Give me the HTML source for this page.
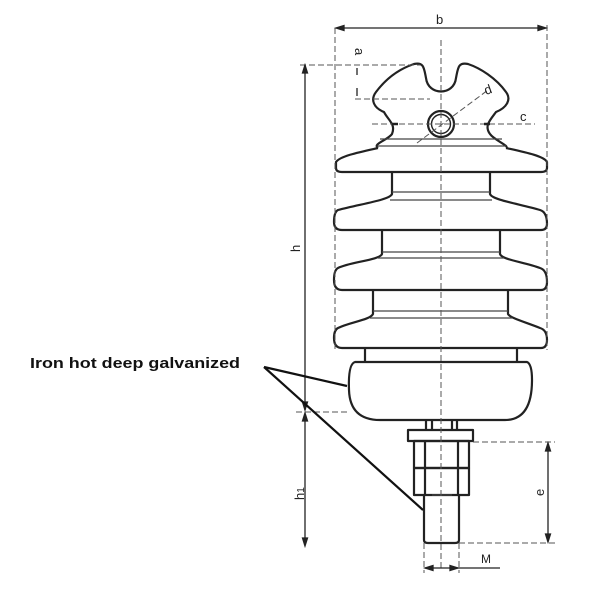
<!DOCTYPE html>
<html><head><style>html,body{margin:0;padding:0;background:#fff}svg{display:block}</style></head>
<body>
<svg width="600" height="600" viewBox="0 0 600 600" xmlns="http://www.w3.org/2000/svg" font-family="Liberation Sans, sans-serif">
<g fill="none" stroke="#222" stroke-width="2.2" stroke-linejoin="round">
<path d="M378,148 C372,144 388,140 392,134 C396,124 388,120 384,112 C374,108 370,100 376,92 C388,76 402,68 414,64 C424,62 424,68 426,78 C428,96 454,96 456,78 C458,68 458,62 468,64 C480,68 496,78 506,92 C512,100 506,108 496,112 C490,120 484,126 490,134 C494,140 510,146 506,148"/>
<path d="M378,148 C360,152 340,156 336,162 L336,168 Q336,172 342,172 L541,172 Q547,172 547,168 L547,162 C544,156 524,152 506,148"/>
<path d="M392,172 L392,194 C390,200 360,204 338,210 Q334,212 334,222 Q334,230 342,230 L541,230 Q547,230 547,224 Q547,212 540,210 C520,204 492,200 490,194 L490,172"/>
<path d="M382,230 L382,254 C380,260 350,262 338,268 Q334,270 334,280 Q334,290 342,290 L541,290 Q547,290 547,282 Q547,270 540,268 C525,262 502,260 500,254 L500,230"/>
<path d="M373,290 L373,314 C370,320 350,322 338,328 Q334,330 334,338 Q334,348 342,348 L541,348 Q547,348 547,340 Q547,330 540,328 C525,322 510,318 508,314 L508,290"/>
<path d="M365,348 L365,362 M517,348 L517,362"/>
<path d="M355,362 L527,362 Q532,364 532,380 Q532,420 505,420 L380,420 Q350,420 349,390 Q348,364 355,362 Z"/>
<path d="M426,420 L426,430 M457,420 L457,430 M432,420 L432,430 M452,420 L452,430"/>
<rect x="408" y="430" width="65" height="11"/>
<rect x="414" y="441" width="55" height="27"/>
<rect x="414" y="468" width="55" height="27"/>
<path d="M425,441 L425,495 M458,441 L458,495"/>
<path d="M424,495 L424,540 Q424,543 428,543 L455,543 Q459,543 459,540 L459,495"/>
<circle cx="441" cy="124" r="13"/>
<circle cx="441" cy="124" r="9.5" stroke-width="1.4"/>
</g>
<g stroke="#444" stroke-width="1.2">
<line x1="392" y1="192" x2="490" y2="192"/><line x1="390" y1="200" x2="492" y2="200"/>
<line x1="382" y1="252" x2="500" y2="252"/><line x1="378" y1="258" x2="504" y2="258"/>
<line x1="373" y1="311" x2="508" y2="311"/><line x1="370" y1="318" x2="512" y2="318"/>
<line x1="380" y1="139" x2="502" y2="139"/><line x1="378" y1="146" x2="506" y2="146"/>
<line x1="432" y1="495" x2="452" y2="495"/>
</g>
<g stroke="#555" stroke-width="1" stroke-dasharray="6,3" fill="none">
<line x1="441" y1="40" x2="441" y2="570"/>
<line x1="335" y1="28" x2="335" y2="350"/>
<line x1="547" y1="25" x2="547" y2="350"/>
<line x1="300" y1="65" x2="420" y2="65"/>
<line x1="355" y1="99" x2="430" y2="99"/>
<line x1="372" y1="124" x2="535" y2="124"/>
<line x1="417" y1="143" x2="488" y2="90"/>
<line x1="296" y1="412" x2="350" y2="412"/>
<line x1="473" y1="442" x2="555" y2="442"/>
<line x1="459" y1="543" x2="555" y2="543"/>
<line x1="424" y1="543" x2="424" y2="573"/>
<line x1="459" y1="543" x2="459" y2="573"/>
</g>
<g stroke="#222" stroke-width="1.3" fill="#222">
<line x1="337" y1="28" x2="545" y2="28"/>
<path d="M336,28 l8,-2.5 v5z M546,28 l-8,-2.5 v5z"/>
<line x1="305" y1="66" x2="305" y2="410"/>
<path d="M305,65 l-2.5,8 h5z M305,410 l-2.5,-8 h5z"/>
<line x1="305" y1="414" x2="305" y2="545"/>
<path d="M305,413 l-2.5,8 h5z M305,546 l-2.5,-8 h5z"/>
<line x1="548" y1="444" x2="548" y2="541"/>
<path d="M548,443 l-2.5,8 h5z M548,542 l-2.5,-8 h5z"/>
<line x1="425" y1="568" x2="500" y2="568"/>
<path d="M425,568 l8,-2.5 v5z M458,568 l-8,-2.5 v5z"/>
<line x1="357" y1="68" x2="357" y2="75"/><line x1="357" y1="88" x2="357" y2="96"/>
<line x1="392" y1="124" x2="398" y2="124" stroke-width="2.5"/>
<line x1="484" y1="124" x2="490" y2="124" stroke-width="2.5"/>
</g>
<g stroke="#111" stroke-width="2.2">
<line x1="264" y1="367" x2="347" y2="386"/>
<line x1="264" y1="367" x2="423" y2="510"/>
</g>
<g fill="#222" font-size="13">
<text x="436" y="24">b</text>
<text x="486" y="95" transform="rotate(-20 486 95)">d</text>
<text x="520" y="121">c</text>
<text x="355" y="48" transform="rotate(90 355 48)">a</text>
<text x="292" y="244" transform="rotate(-90 300 244)">h</text>
<text x="292" y="496" transform="rotate(-90 300 492)">h<tspan font-size="10">1</tspan></text>
<text x="536" y="492" transform="rotate(-90 542 490)">e</text>
<text x="481" y="563" font-size="12">M</text>
</g>
<text x="30" y="368" font-size="15" font-weight="bold" fill="#111" textLength="210" lengthAdjust="spacingAndGlyphs">Iron hot deep galvanized</text>
</svg>
</body></html>
